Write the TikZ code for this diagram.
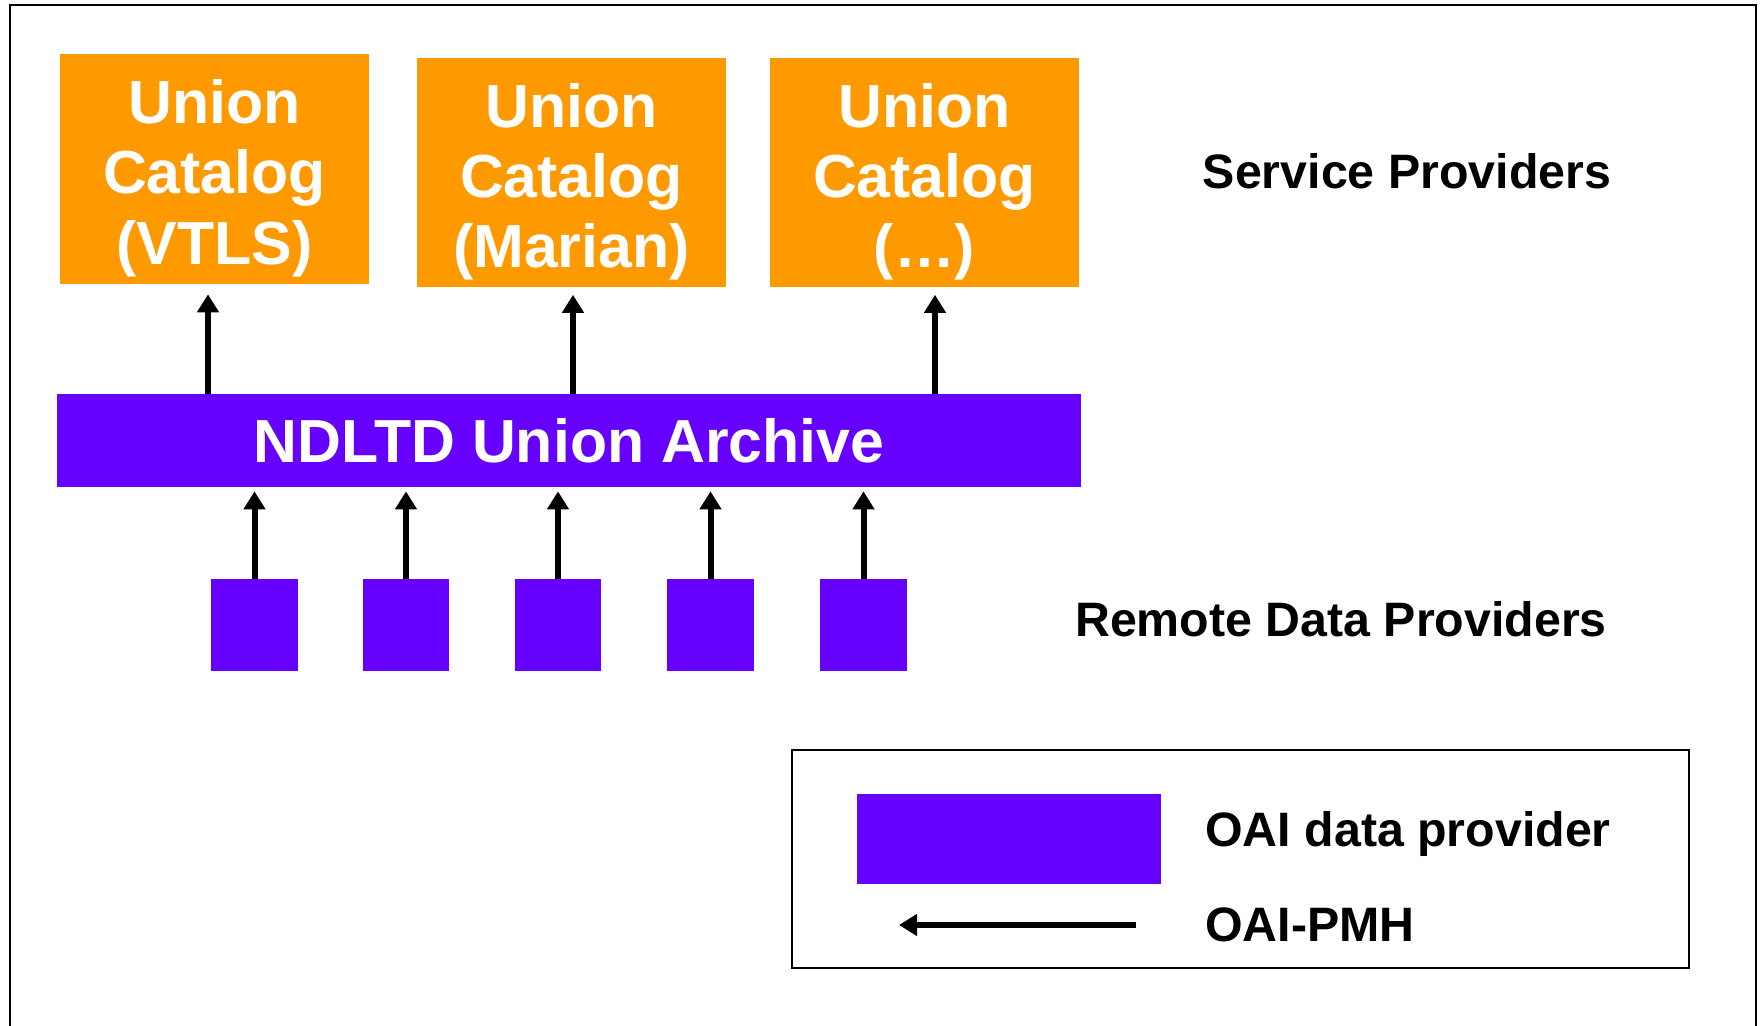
\documentclass[tikz,border=0pt]{standalone}
\usepackage{fontspec}
\setmainfont{Liberation Sans}
\usepackage{xcolor}
\usepackage{tikz}
\usetikzlibrary{positioning, arrows.meta, calc}
\definecolor{catorange}{RGB}{255, 153, 0}
\definecolor{oaipurple}{RGB}{102, 0, 255}
% tall first line, pushes the catalog text a bit down
\newcommand{\topstrut}{\rule{0pt}{1.25cm}}

\begin{document}
\begin{tikzpicture}[
        x=0.02cm, y=-0.02cm,
        % Orange boxes for the union catalogs
        catalog/.style={
            fill=catorange,
            minimum width=6.18cm,
            minimum height=4.6cm,
            inner sep=0pt,
            align=center,
            text=white,
            font=\bfseries\fontsize{34.6}{40}\selectfont
        },
        % Purple boxes for the data providers
        provider/.style={
            fill=oaipurple,
            minimum width=1.74cm,
            minimum height=1.84cm,
            inner sep=0pt
        },
        % Black labels on the right
        label_text/.style={
            font=\bfseries\fontsize{27.5}{32}\selectfont,
            inner sep=0pt
        },
        % Harvesting arrows
        flow/.style={
            line width=0.12cm,
            -{Triangle[width=0.42cm, length=0.36cm]}
        }
    ]

    \useasboundingbox (0,0) rectangle (1762,1026);

    % 1. Outer frame (open at the bottom)
    \draw[line width=0.04cm] (10,1026) -- (10,5) -- (1756,5) -- (1756,1026);

    % 2. Service providers
    \node[catalog] (cat1) at (214.5,169)   {\topstrut Union\\Catalog\\(VTLS)};
    \node[catalog] (cat2) at (571.5,172.5) {\topstrut Union\\Catalog\\(Marian)};
    \node[catalog] (cat3) at (924.5,172.5) {\topstrut Union\\Catalog\\(\ldots)};
    \node[label_text] (sp) at (1407,171) {Service Providers};

    % 3. Union archive
    \node[fill=oaipurple, minimum width=20.48cm, minimum height=1.86cm, inner sep=0pt,
          text=white, font=\bfseries\fontsize{34.6}{40}\selectfont]
        (arch) at (569,440.5) {NDLTD Union Archive};

    \draw[flow, shorten >=0.2cm] ([xshift=-0.13cm]cat1.south |- arch.north) -- ([xshift=-0.13cm]cat1.south);
    \draw[flow, shorten >=0.14cm] ([xshift=0.03cm]cat2.south |- arch.north) -- ([xshift=0.03cm]cat2.south);
    \draw[flow, shorten >=0.14cm] ([xshift=0.21cm]cat3.south |- arch.north) -- ([xshift=0.21cm]cat3.south);

    % 4. Remote data providers
    \foreach \i/\x in {1/254.5, 2/406, 3/558, 4/710.5, 5/863.5} {
        \node[provider] (dp\i) at (\x,625) {};
        \draw[flow, shorten >=0.08cm] (dp\i.north) -- (dp\i.north |- arch.south);
    }
    \node[label_text] (rdp) at (1341,619) {Remote Data Providers};

    % 5. Legend
    \node[draw, line width=0.04cm, minimum width=17.94cm, minimum height=4.36cm, inner sep=0pt]
        (legend) at (1240.5,859) {};
    \node[provider, minimum width=6.08cm, minimum height=1.8cm] (legbox) at (1009,839) {};
    \node[label_text, anchor=west] (legprov) at (1205,834) {OAI data provider};
    \node[label_text, anchor=west] (legpmh) at (1205,925) {OAI-PMH};
    \coordinate (legtip) at (899,925);
    \draw[flow] (legbox.south east |- legpmh.west) ++(-0.5cm,0) -- (legtip);

\end{tikzpicture}
\end{document}
